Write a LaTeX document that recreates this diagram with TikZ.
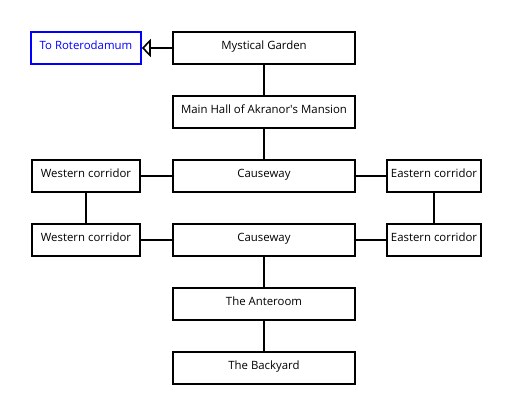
\documentclass[tikz,border=0pt]{standalone}
\usepackage{fontspec}
\setmainfont{Open Sans}
\usetikzlibrary{arrows.meta}

\begin{document}
\begin{tikzpicture}[
      x=1pt,y=-1pt,
      line width=1.6pt,
      room/.style={
        draw=black,
        line width=1.6pt,
        minimum height=32pt,
        inner sep=0pt,
        text height=8.5pt,
        text depth=5pt,
        font=\fontsize{11.4}{13}\selectfont
      },
      exit/.style={
        room,
        draw=blue,
        text=blue
      }
    ]
      \useasboundingbox (0,0) rectangle (519,416);

      \node (r1) at (86,48) [exit,minimum width=110pt]{To Roterodamum};
      \node (g1) at (264,48) [room,minimum width=182pt]{Mystical Garden};
      \node (h1) at (264,112) [room,minimum width=182pt]{Main Hall of Akranor\textquotesingle s Mansion};

      \node (w1) at (86,176) [room,minimum width=108pt]{Western corridor};
      \node (c1) at (264,176) [room,minimum width=182pt]{Causeway};
      \node (e1) at (434,176) [room,minimum width=94pt]{Eastern corridor};

      \node (w2) at (86,240) [room,minimum width=108pt]{Western corridor};
      \node (c2) at (264,240) [room,minimum width=182pt]{Causeway};
      \node (e2) at (434,240) [room,minimum width=94pt]{Eastern corridor};

      \node (t1) at (264,304) [room,minimum width=182pt]{The Anteroom};
      \node (b1) at (264,368) [room,minimum width=182pt]{The Backyard};

      \draw[-{Triangle[open,length=9pt,width=18pt]}] (g1) -- (r1);
      \draw (g1) -- (h1);
      \draw (h1) -- (c1);

      \draw (w1) -- (c1);
      \draw (c1) -- (e1);
      \draw (w1) -- (w2);
      \draw (e1) -- (e2);

      \draw (w2) -- (c2);
      \draw (c2) -- (e2);

      \draw (c2) -- (t1);
      \draw (t1) -- (b1);
    \end{tikzpicture}
\end{document}
